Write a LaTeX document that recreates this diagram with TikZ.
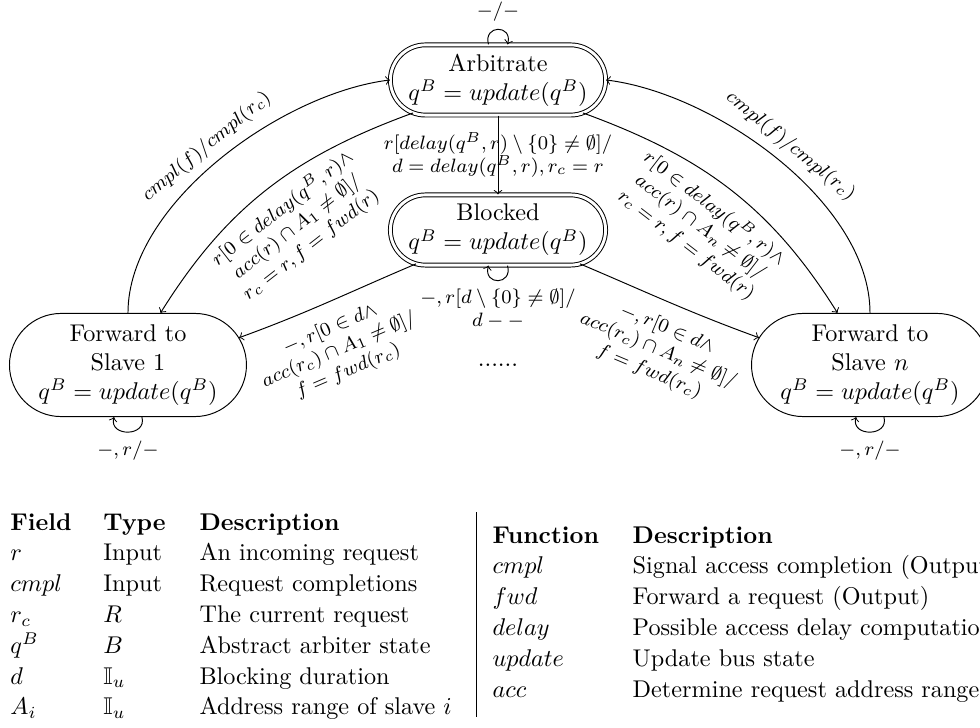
\documentclass[tikz,border=0pt]{standalone}
\usepackage{amsmath, amssymb}
\usetikzlibrary{arrows.meta, positioning, calc}
\renewcommand{\arraystretch}{1.06}

\begin{document}
\begin{tikzpicture}[
    >=to,
    state/.style={rectangle, draw, align=center},
    mainstate/.style={state, double, double distance=1.2pt,
                      minimum width=88.9pt, minimum height=29pt,
                      rounded corners=14.5pt},
    fwdstate/.style={state, minimum width=97.9pt, minimum height=42.6pt,
                     rounded corners=21.3pt},
    trans/.style={font=\footnotesize, align=center},
    every loop/.style={looseness=1, min distance=3mm}]
  \useasboundingbox (0,0) rectangle (14.228,-10.555);
  % States
  \node[mainstate] (arb) at (7.230,-1.161) {Arbitrate\\$q^B = update(q^B)$};
  \node[mainstate] (blk) at (7.230,-3.339) {Blocked\\$q^B = update(q^B)$};
  \node[fwdstate] (s1) at (1.858,-5.299) {Forward to\\Slave 1\\$q^B = update(q^B)$};
  \node[fwdstate] (sn) at (12.631,-5.299) {Forward to\\Slave $n$\\$q^B = update(q^B)$};
  \node[anchor=base] (dots) at (7.230,-5.328) {......};
  % Points on the round ends
  \coordinate (arbsw) at ($(arb.west)+(14.5pt,0)+(250:14.5pt)$);
  \coordinate (arbse) at ($(arb.east)+(-14.5pt,0)+(-70:14.5pt)$);
  \coordinate (blksw) at ($(blk.west)+(14.5pt,0)+(255:14.5pt)$);
  \coordinate (blkse) at ($(blk.east)+(-14.5pt,0)+(-75:14.5pt)$);
  \coordinate (s1e) at ($(s1.east)+(-21.3pt,0)+(32:21.3pt)$);
  \coordinate (snw) at ($(sn.west)+(21.3pt,0)+(148:21.3pt)$);
  % Transitions
  \path[->] (arb) edge[loop above] node[trans, above] {$-/-$} ();
  \draw[->] (arb) -- node[trans] {$r[delay(q^B,r)\setminus\{0\}\neq\emptyset]/$\\
    $d = delay(q^B,r), r_c = r$} (blk);
  \draw[->] (arbsw) to[out=200, in=58]
    node[trans, sloped, below=2pt] {$r[0\in delay(q^B,r)\wedge$\\
      $acc(r)\cap A_1\neq\emptyset]/$\\$r_c = r, f = fwd(r)$} (s1.58);
  \draw[->] (s1.north) to[out=90, in=187, looseness=0.8]
    node[trans, sloped, above] {$cmpl(f)/cmpl(r_c)$} (arb.west);
  \draw[->] (arbse) to[out=-20, in=122]
    node[trans, sloped, below=2pt] {$r[0\in delay(q^B,r)\wedge$\\
      $acc(r)\cap A_n\neq\emptyset]/$\\$r_c = r, f = fwd(r)$} (sn.122);
  \draw[->] (sn.north) to[out=90, in=-7, looseness=0.8]
    node[trans, sloped, above] {$cmpl(f)/cmpl(r_c)$} (arb.east);
  \draw[->] (blksw) to[out=203, in=20]
    node[trans, sloped, below=3pt, pos=0.55] {$-,r[0\in d\wedge$\\
      $acc(r_c)\cap A_1\neq\emptyset]/$\\$f = fwd(r_c)$} (s1e);
  \draw[->] (blkse) to[out=-23, in=160]
    node[trans, sloped, below=3pt, pos=0.55] {$-,r[0\in d\wedge$\\
      $acc(r_c)\cap A_n\neq\emptyset]/$\\$f = fwd(r_c)$} (snw);
  \path[->] (blk) edge[loop below] node[trans, below]
    {$-,r[d\setminus\{0\}\neq\emptyset]/$\\$d--$} ();
  \path[->] (s1) edge[loop below] node[trans, below] {$-,r/-$} ();
  \path[->] (sn) edge[loop below] node[trans, below] {$-,r/-$} ();
  % Legend
  \node[anchor=base west, inner sep=0pt] (fields) at (0.145,-7.696) {%
    \begin{tabular}[t]{@{}p{38.4pt}@{}p{39.7pt}@{}l@{}}
      \textbf{Field} & \textbf{Type} & \textbf{Description}\\
      $r$     & Input       & An incoming request\\
      $cmpl$  & Input       & Request completions\\
      $r_c$   & $R$         & The current request\\
      $q^B$   & $B$         & Abstract arbiter state\\
      $d$     & $\mathbb{I}_u$ & Blocking duration\\
      $A_i$   & $\mathbb{I}_u$ & Address range of slave $i$
    \end{tabular}};
  \draw (6.912,-7.434) -- (6.912,-10.411);
  \node[anchor=base west, inner sep=0pt] (funcs) at (7.144,-7.884) {%
    \begin{tabular}[t]{@{}p{57.9pt}@{}l@{}}
      \textbf{Function} & \textbf{Description}\\
      $cmpl$   & Signal access completion (Output)\\
      $fwd$    & Forward a request (Output)\\
      $delay$  & Possible access delay computation\\
      $update$ & Update bus state\\
      $acc$    & Determine request address range
    \end{tabular}};
\end{tikzpicture}
\end{document}
